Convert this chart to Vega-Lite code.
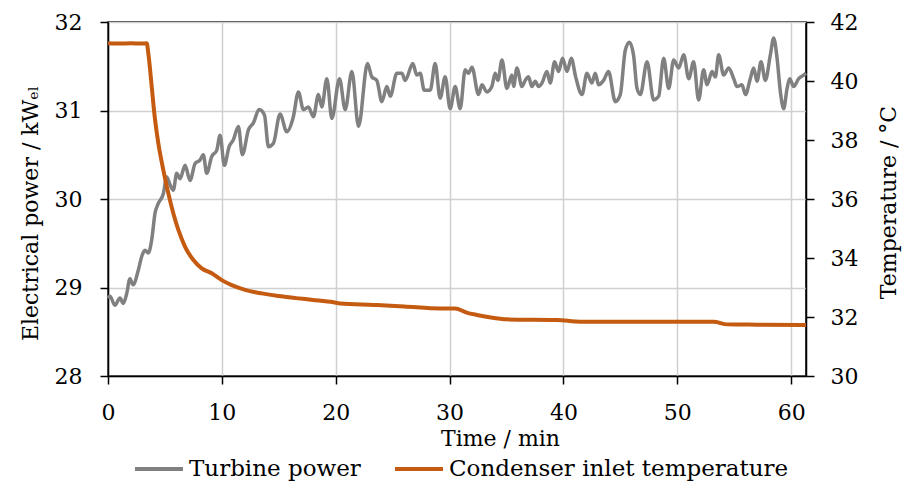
{
  "$schema": "https://vega.github.io/schema/vega-lite/v6.json",
  "width": 698,
  "height": 354,
  "autosize": {"type": "none"},
  "padding": {"left": 108, "top": 22, "right": 101, "bottom": 112},
  "background": "white",
  "config": {
    "font": "DejaVu Serif",
    "view": {"stroke": "black", "strokeWidth": 1.5},
    "axis": {
      "domainColor": "black",
      "domainWidth": 1.5,
      "tickColor": "black",
      "tickWidth": 1.5,
      "tickSize": 8,
      "labelFlush": false,
      "labelFont": "DejaVu Serif",
      "labelFontSize": 22,
      "labelColor": "black",
      "titleFont": "DejaVu Serif",
      "titleFontSize": 22,
      "titleFontWeight": "normal",
      "titleColor": "black",
      "gridColor": "#d0d0d0",
      "gridWidth": 1.5
    },
    "legend": {
      "labelFont": "DejaVu Serif",
      "labelFontSize": 23,
      "labelColor": "black",
      "labelLimit": 0
    }
  },
  "datasets": {
    "power": [
      {"t": 0.0, "p": 28.88}, {"t": 0.18, "p": 28.9}, {"t": 0.6, "p": 28.8}, {"t": 1.05, "p": 28.88},
      {"t": 1.35, "p": 28.82}, {"t": 1.64, "p": 28.93}, {"t": 1.93, "p": 29.1}, {"t": 2.2, "p": 29.03},
      {"t": 2.67, "p": 29.2}, {"t": 2.96, "p": 29.35}, {"t": 3.25, "p": 29.42}, {"t": 3.54, "p": 29.39},
      {"t": 3.84, "p": 29.54}, {"t": 4.13, "p": 29.84}, {"t": 4.42, "p": 29.95}, {"t": 4.86, "p": 30.06},
      {"t": 5.16, "p": 30.25}, {"t": 5.45, "p": 30.16}, {"t": 5.74, "p": 30.1}, {"t": 6.03, "p": 30.29},
      {"t": 6.33, "p": 30.23}, {"t": 6.77, "p": 30.38}, {"t": 7.2, "p": 30.21}, {"t": 7.65, "p": 30.4},
      {"t": 8.08, "p": 30.44}, {"t": 8.37, "p": 30.5}, {"t": 8.67, "p": 30.29}, {"t": 9.11, "p": 30.48},
      {"t": 9.55, "p": 30.55}, {"t": 9.84, "p": 30.72}, {"t": 10.22, "p": 30.38}, {"t": 10.63, "p": 30.59},
      {"t": 11.01, "p": 30.67}, {"t": 11.45, "p": 30.82}, {"t": 11.8, "p": 30.5}, {"t": 12.33, "p": 30.78},
      {"t": 12.77, "p": 30.86}, {"t": 13.27, "p": 31.01}, {"t": 13.74, "p": 30.95}, {"t": 14.09, "p": 30.59},
      {"t": 14.53, "p": 30.63}, {"t": 15.11, "p": 30.96}, {"t": 15.7, "p": 30.76}, {"t": 16.28, "p": 30.93},
      {"t": 16.72, "p": 31.21}, {"t": 17.16, "p": 31.01}, {"t": 17.6, "p": 31.04}, {"t": 18.04, "p": 30.93},
      {"t": 18.48, "p": 31.18}, {"t": 18.78, "p": 31.04}, {"t": 19.22, "p": 31.36}, {"t": 19.66, "p": 30.91},
      {"t": 20.33, "p": 31.36}, {"t": 20.83, "p": 31.01}, {"t": 21.42, "p": 31.44}, {"t": 22.0, "p": 30.82},
      {"t": 22.79, "p": 31.53}, {"t": 23.17, "p": 31.38}, {"t": 23.61, "p": 31.34}, {"t": 24.05, "p": 31.1},
      {"t": 24.49, "p": 31.27}, {"t": 24.78, "p": 31.16}, {"t": 25.37, "p": 31.42}, {"t": 25.81, "p": 31.42},
      {"t": 26.1, "p": 31.34}, {"t": 26.77, "p": 31.53}, {"t": 27.12, "p": 31.4}, {"t": 27.42, "p": 31.42},
      {"t": 27.77, "p": 31.23}, {"t": 28.3, "p": 31.23}, {"t": 28.73, "p": 31.53}, {"t": 29.17, "p": 31.14},
      {"t": 29.61, "p": 31.38}, {"t": 30.05, "p": 31.02}, {"t": 30.49, "p": 31.27}, {"t": 30.93, "p": 31.02},
      {"t": 31.37, "p": 31.46}, {"t": 31.66, "p": 31.42}, {"t": 31.96, "p": 31.49}, {"t": 32.54, "p": 31.18},
      {"t": 32.84, "p": 31.29}, {"t": 33.27, "p": 31.21}, {"t": 33.71, "p": 31.27}, {"t": 34.0, "p": 31.42},
      {"t": 34.24, "p": 31.34}, {"t": 34.6, "p": 31.57}, {"t": 35.03, "p": 31.25}, {"t": 35.47, "p": 31.4},
      {"t": 35.62, "p": 31.27}, {"t": 35.91, "p": 31.48}, {"t": 36.35, "p": 31.27}, {"t": 36.64, "p": 31.34},
      {"t": 36.93, "p": 31.38}, {"t": 37.23, "p": 31.27}, {"t": 37.52, "p": 31.33}, {"t": 37.81, "p": 31.27},
      {"t": 38.11, "p": 31.31}, {"t": 38.55, "p": 31.44}, {"t": 38.84, "p": 31.31}, {"t": 39.22, "p": 31.55},
      {"t": 39.57, "p": 31.44}, {"t": 39.92, "p": 31.59}, {"t": 40.31, "p": 31.44}, {"t": 40.69, "p": 31.59},
      {"t": 41.07, "p": 31.38}, {"t": 41.63, "p": 31.18}, {"t": 42.06, "p": 31.42}, {"t": 42.5, "p": 31.31},
      {"t": 42.79, "p": 31.42}, {"t": 43.09, "p": 31.29}, {"t": 43.52, "p": 31.34}, {"t": 43.96, "p": 31.44},
      {"t": 44.55, "p": 31.1}, {"t": 44.99, "p": 31.18}, {"t": 45.43, "p": 31.68}, {"t": 45.8, "p": 31.77},
      {"t": 46.16, "p": 31.62}, {"t": 46.46, "p": 31.25}, {"t": 46.75, "p": 31.18}, {"t": 47.34, "p": 31.55},
      {"t": 47.92, "p": 31.12}, {"t": 48.36, "p": 31.16}, {"t": 48.8, "p": 31.59}, {"t": 49.24, "p": 31.25},
      {"t": 49.68, "p": 31.57}, {"t": 50.12, "p": 31.48}, {"t": 50.56, "p": 31.63}, {"t": 51.0, "p": 31.36},
      {"t": 51.43, "p": 31.55}, {"t": 51.87, "p": 31.12}, {"t": 52.31, "p": 31.46}, {"t": 52.61, "p": 31.29},
      {"t": 53.05, "p": 31.44}, {"t": 53.34, "p": 31.38}, {"t": 53.63, "p": 31.63}, {"t": 54.07, "p": 31.4},
      {"t": 54.51, "p": 31.48}, {"t": 54.95, "p": 31.36}, {"t": 55.24, "p": 31.27}, {"t": 55.68, "p": 31.29},
      {"t": 55.98, "p": 31.18}, {"t": 56.41, "p": 31.36}, {"t": 56.7, "p": 31.48}, {"t": 57.0, "p": 31.33},
      {"t": 57.35, "p": 31.55}, {"t": 57.73, "p": 31.34}, {"t": 58.17, "p": 31.63}, {"t": 58.46, "p": 31.82},
      {"t": 58.76, "p": 31.59}, {"t": 59.05, "p": 31.21}, {"t": 59.34, "p": 31.02}, {"t": 59.64, "p": 31.25},
      {"t": 59.87, "p": 31.36}, {"t": 60.22, "p": 31.27}, {"t": 60.66, "p": 31.36}, {"t": 61.1, "p": 31.4},
      {"t": 61.3, "p": 31.42}
    ],
    "temp": [
      {"t": 0, "T": 41.28}, {"t": 1, "T": 41.27}, {"t": 2, "T": 41.28}, {"t": 3, "T": 41.27},
      {"t": 3.4, "T": 41.28}, {"t": 3.54, "T": 40.94}, {"t": 3.84, "T": 39.81}, {"t": 4.07, "T": 38.9},
      {"t": 4.42, "T": 37.89}, {"t": 4.86, "T": 36.98}, {"t": 5.3, "T": 36.19}, {"t": 5.74, "T": 35.51},
      {"t": 6.18, "T": 34.95}, {"t": 6.77, "T": 34.38}, {"t": 7.5, "T": 33.93}, {"t": 8.23, "T": 33.65},
      {"t": 9.11, "T": 33.48}, {"t": 9.99, "T": 33.25}, {"t": 10.87, "T": 33.08}, {"t": 12.04, "T": 32.92},
      {"t": 13.5, "T": 32.8}, {"t": 14.97, "T": 32.71}, {"t": 16.5, "T": 32.64}, {"t": 18, "T": 32.58},
      {"t": 19.8, "T": 32.5}, {"t": 20.39, "T": 32.46}, {"t": 23.3, "T": 32.41}, {"t": 26, "T": 32.36},
      {"t": 29.17, "T": 32.29}, {"t": 30.49, "T": 32.29}, {"t": 31.5, "T": 32.15}, {"t": 32.4, "T": 32.07},
      {"t": 33.5, "T": 31.99}, {"t": 35.03, "T": 31.92}, {"t": 39.43, "T": 31.9}, {"t": 41.48, "T": 31.84},
      {"t": 45, "T": 31.84}, {"t": 50, "T": 31.84}, {"t": 53.19, "T": 31.84}, {"t": 54.37, "T": 31.75},
      {"t": 57, "T": 31.74}, {"t": 61.3, "T": 31.73}
    ]
  },
  "layer": [
    {
      "data": {"name": "power"},
      "mark": {"type": "line", "strokeWidth": 3.5, "interpolate": "monotone"},
      "encoding": {
        "x": {
          "field": "t", "type": "quantitative",
          "scale": {"domain": [0, 61.3], "nice": false, "zero": false},
          "axis": {"values": [0, 10, 20, 30, 40, 50, 60], "grid": true, "labelPadding": 18, "title": "Time / min",
                   "titleX": 392, "titleY": 62, "titleBaseline": "middle", "titleAlign": "center"}
        },
        "y": {
          "field": "p", "type": "quantitative",
          "scale": {"domain": [28, 32], "nice": false, "zero": false},
          "axis": {"values": [28, 29, 30, 31, 32], "grid": true, "labelPadding": 18, "title": "Electrical power / kWₑₗ",
                   "titleX": -78, "titleY": 191, "titleAngle": -90, "titleBaseline": "middle", "titleAlign": "center"}
        },
        "color": {
          "datum": "Turbine power", "type": "nominal",
          "scale": {"domain": ["Turbine power", "Condenser inlet temperature"], "range": ["#808080", "#C55A11"]},
          "legend": {"title": null, "orient": "none", "legendX": 25, "legendY": 421, "direction": "horizontal",
                     "symbolType": "stroke", "symbolSize": 2304, "symbolStrokeWidth": 4, "labelOffset": 4,
                     "columnPadding": 26, "padding": 0, "labelLimit": 0}
        }
      }
    },
    {
      "data": {"name": "temp"},
      "mark": {"type": "line", "strokeWidth": 4, "interpolate": "monotone"},
      "encoding": {
        "x": {"field": "t", "type": "quantitative"},
        "y": {
          "field": "T", "type": "quantitative",
          "scale": {"domain": [30, 42], "nice": false, "zero": false},
          "axis": {"orient": "right", "values": [30, 32, 34, 36, 38, 40, 42], "grid": false, "labelPadding": 16,
                   "title": "Temperature / °C", "titleX": 82, "titleY": 180, "titleAngle": -90,
                   "titleBaseline": "middle", "titleAlign": "center"}
        },
        "color": {"datum": "Condenser inlet temperature", "type": "nominal"}
      }
    }
  ],
  "resolve": {"scale": {"y": "independent"}}
}
